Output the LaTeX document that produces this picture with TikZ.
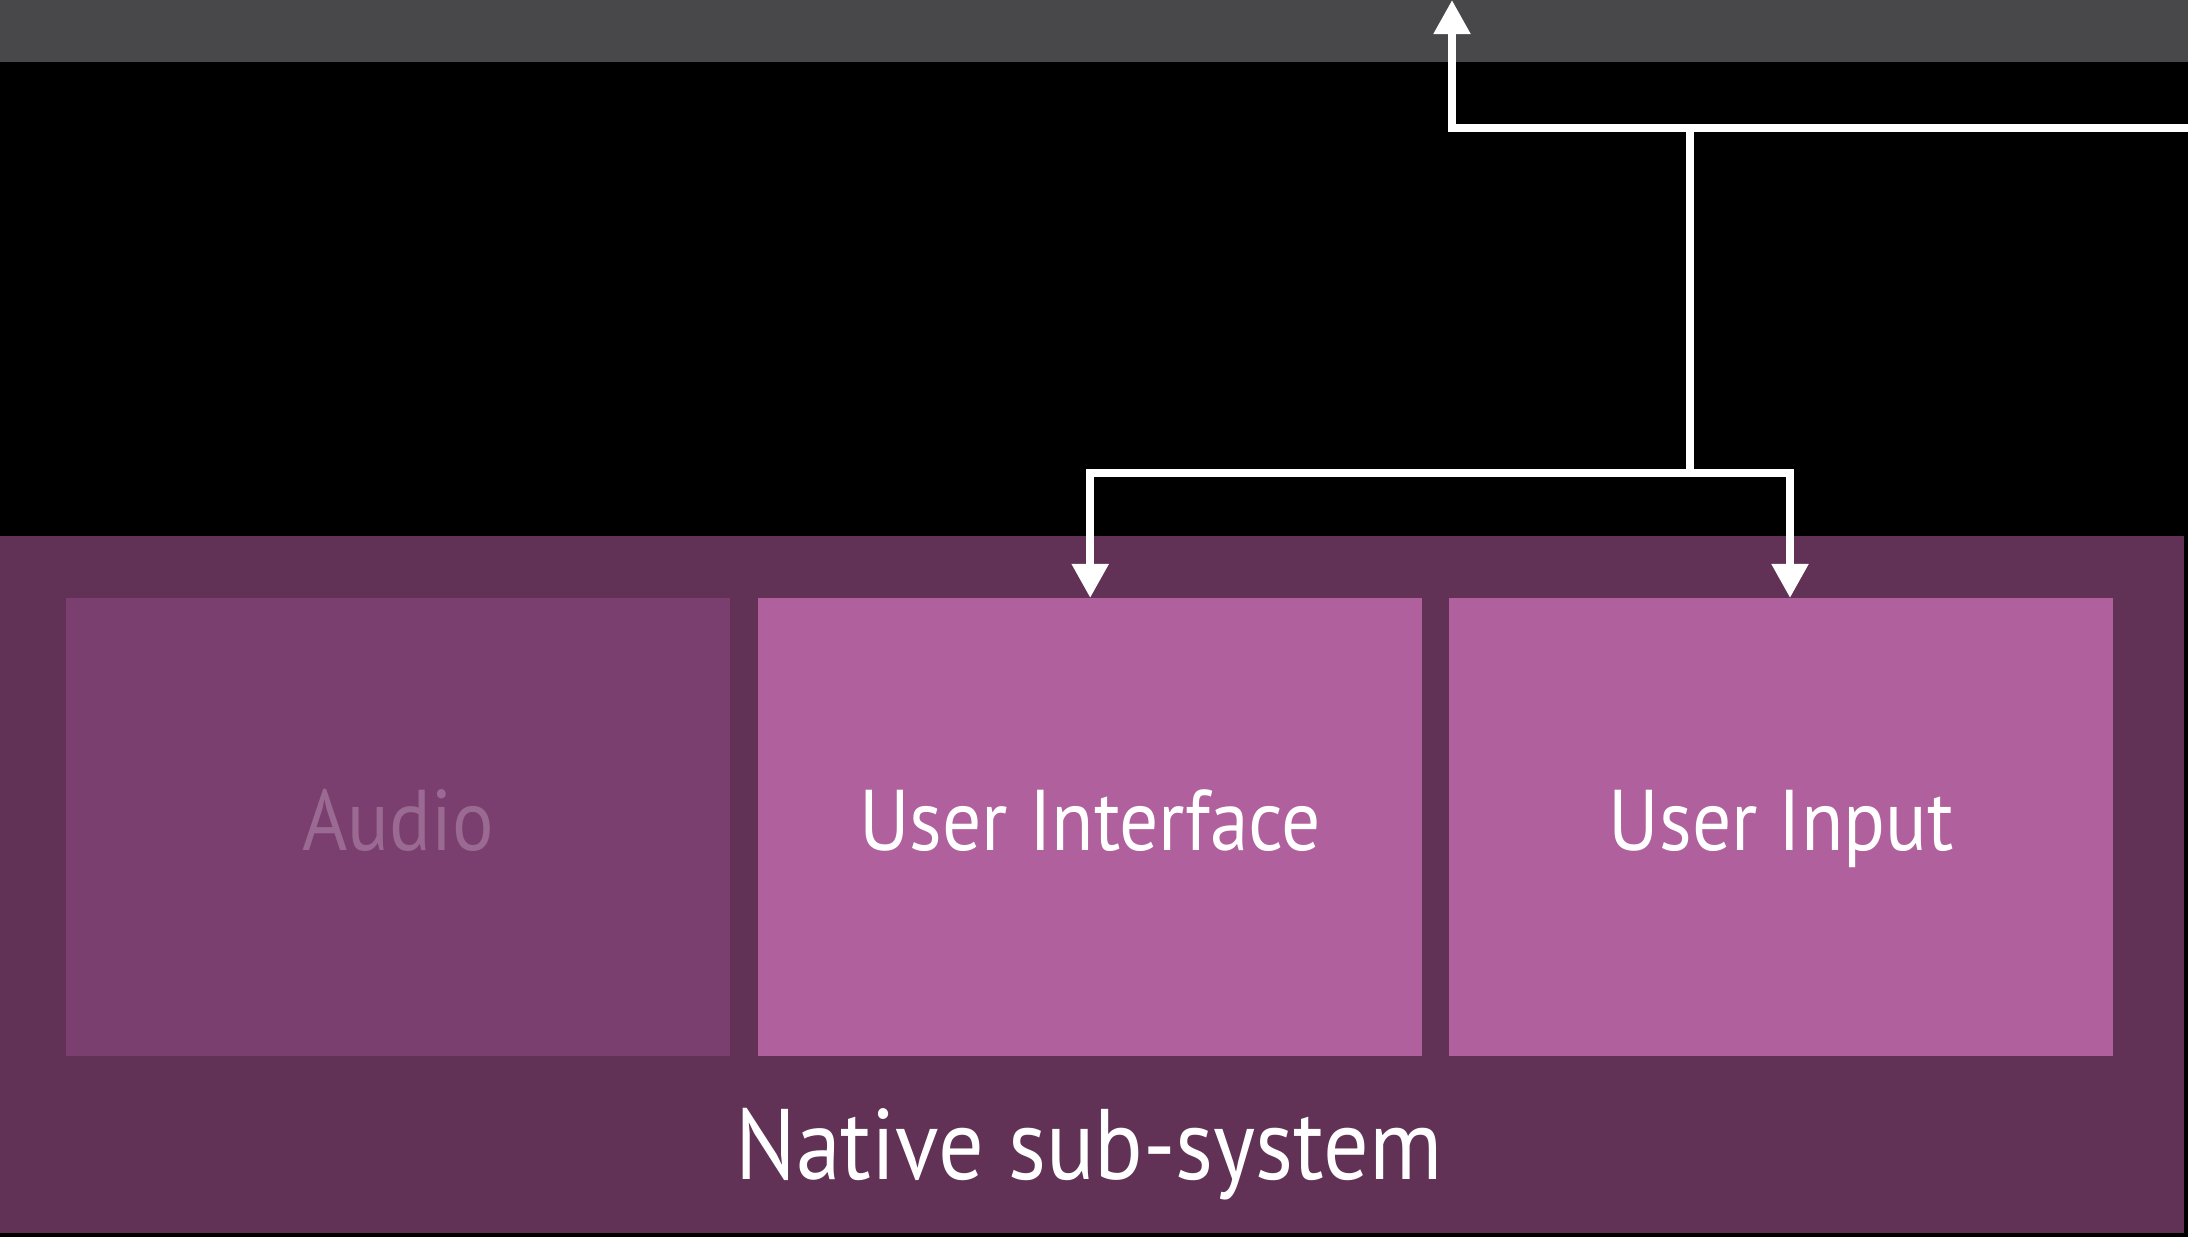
\documentclass[tikz,border=0pt]{standalone}
\usepackage{fontspec}
\setmainfont{PT Sans}[FakeStretch=0.9]
\usetikzlibrary{arrows.meta}

\definecolor{hostgray}{HTML}{48484A}
\definecolor{nativebg}{HTML}{613256}
\definecolor{idlebox}{HTML}{7A3F6E}
\definecolor{idletext}{HTML}{9A6A92}
\definecolor{activebox}{HTML}{B0609C}

\begin{document}
\begin{tikzpicture}[x=0.01cm, y=-0.01cm,
  panel/.style={anchor=north west, inner sep=0pt, outer sep=0pt, draw=none},
  unit/.style={panel, minimum width=6.64cm, minimum height=4.58cm},
  boxlabel/.style={anchor=base, text=white, font=\fontsize{24.5pt}{28pt}\selectfont},
  wire/.style={draw=white, line width=0.08cm, line join=miter},
  tip/.style={-{Triangle[length=0.34cm, width=0.35cm]}},
  bothtips/.style={{Triangle[length=0.34cm, width=0.35cm]}-{Triangle[length=0.34cm, width=0.35cm]}}
]
  % canvas
  \fill[black] (0,0) rectangle (2188,1237);
  \useasboundingbox (0,0) rectangle (2188,1237);

  % host layer strip along the top
  \node[panel, fill=hostgray, minimum width=21.88cm, minimum height=0.62cm] (host) at (0,0) {};

  % native sub-system container
  \node[panel, fill=nativebg, minimum width=21.83cm, minimum height=6.97cm] (native) at (0,536) {};
  \node[anchor=base, text=white, font=\fontsize{28.5pt}{32pt}\selectfont] (nativelbl) at (1089,1179) {Native sub-system};

  % component boxes
  \node[unit, fill=idlebox]   (audio) at (66,598)   {};
  \node[unit, fill=activebox] (ui)    at (758,598)  {};
  \node[unit, fill=activebox] (uin)   at (1449,598) {};

  \node[boxlabel, text=idletext] (audiolbl) at (audio.center |- 0,850) {Audio};
  \node[boxlabel] (uilbl)  at (ui.center |- 0,850)  {User Interface};
  \node[boxlabel] (uinlbl) at (uin.center |- 0,850) {User Input};

  % connectors
  \coordinate (east)  at (2188,128);
  \coordinate (bend)  at (1452,128);
  \coordinate (split) at (1690,128);
  \coordinate (fork)  at (1690,473);
  \coordinate (uinTop) at (1790,598);

  \draw[wire, tip] (east) -- (bend) -- (bend |- host.north);
  \draw[wire] (split) -- (fork);
  \draw[wire, bothtips] (ui.north) |- (fork) -| (uinTop);
\end{tikzpicture}
\end{document}
